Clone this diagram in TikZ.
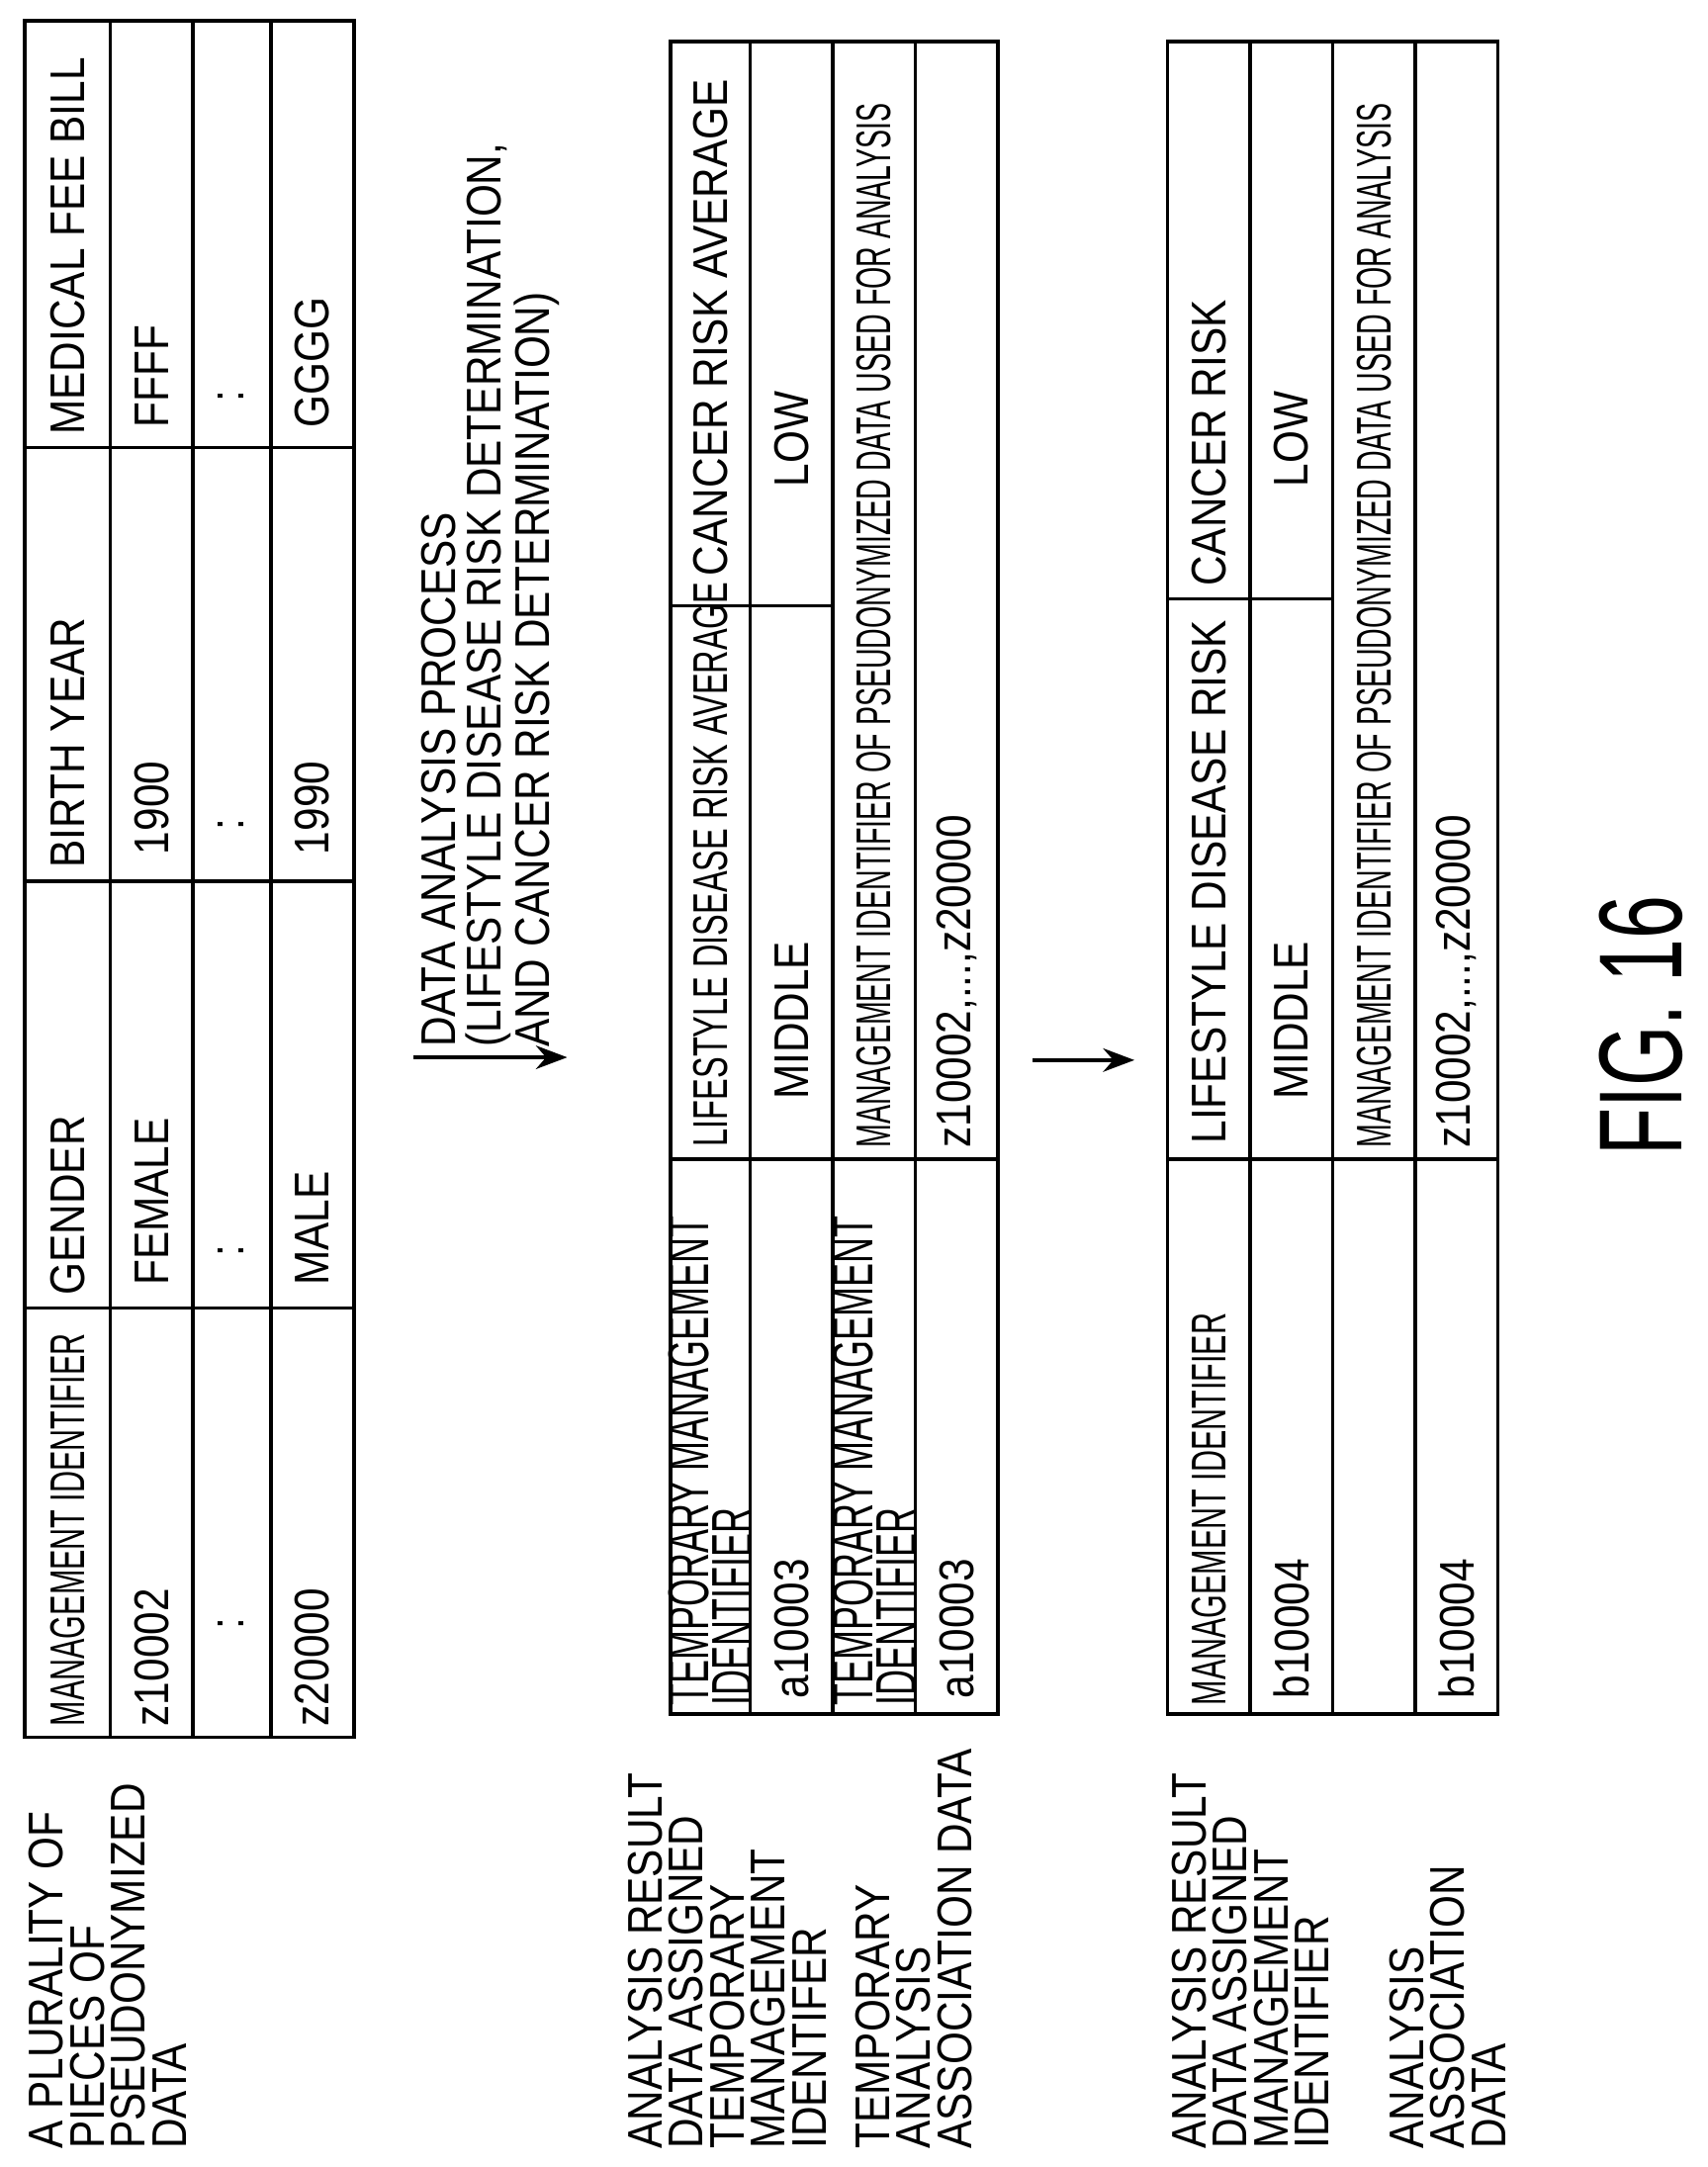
\documentclass[tikz,border=0pt]{standalone}
\usepackage{fontspec}
\setmainfont{Liberation Sans}[FakeStretch=0.86]
\newfontfamily\narrowfont{Liberation Sans}[FakeStretch=0.62]
\newfontfamily\slimfont{Liberation Sans}[FakeStretch=0.58]
\newfontfamily\midfont{Liberation Sans}[FakeStretch=0.66]
\usetikzlibrary{arrows.meta}
\usetikzlibrary{positioning}

\begin{document}
\begin{tikzpicture}[x=0.01392cm, y=-0.01392cm, line width=1pt,
 every node/.style={rotate=90, inner sep=0pt},
 cell/.style={anchor=west, font=\fontsize{14}{14}\selectfont},
 thin cell/.style={anchor=west, font=\narrowfont\fontsize{14}{11}\selectfont},
 mid cell/.style={anchor=west, font=\midfont\fontsize{14}{14}\selectfont},
 lab/.style={anchor=north west, align=left, font=\fontsize{14}{11.8}\selectfont}
]
 \useasboundingbox (0,0) rectangle (1240,1574);
 % first table
 \draw (18,15) rectangle (257,1262);
 \foreach \x in {80,140,197} \draw (\x,15) -- (\x,1262);
 \foreach \y in {325,640,950} \draw (18,\y) -- (257,\y);
 \node[cell] (bill) at (49,317) {MEDICAL FEE BILL};
 \node[cell] (year) at (49,632) {BIRTH YEAR};
 \node[cell] (gender) at (49,942) {GENDER};
 \node[thin cell] (mid) at (49,1255) {MANAGEMENT IDENTIFIER};
 \node[cell] (f1) at (110,312) {FFFF};
 \node[cell] (y1) at (110,622) {1900};
 \node[cell] (g1) at (110,935) {FEMALE};
 \node[cell] (i1) at (110,1255) {z10002};
 \node[cell] (f2) at (168,293) {:};
 \node[cell] (y2) at (168,604) {:};
 \node[cell] (g2) at (168,914) {:};
 \node[cell] (i2) at (168,1185) {:};
 \node[cell] (f3) at (227,312) {GGGG};
 \node[cell] (y3) at (227,622) {1990};
 \node[cell] (g3) at (227,935) {MALE};
 \node[cell] (i3) at (227,1255) {z20000};
 \node[lab] (pseudo) at (20,1562) {A PLURALITY OF\\PIECES OF\\PSEUDONYMIZED\\DATA};

 % analysis arrow
 \coordinate (a1) at (300,768);
 \coordinate (a2) at (412,768);
 \draw[-{Stealth[length=9pt]}] (a1) -- (a2);
 \node[lab, font=\fontsize{14}{13}\selectfont] (process) at (305,762) {DATA ANALYSIS PROCESS\\(LIFESTYLE DISEASE RISK DETERMINATION,\\AND CANCER RISK DETERMINATION)};

 % second table
 \draw (487,30) rectangle (725,1245);
 \foreach \x in {545,605,665} \draw (\x,30) -- (\x,1245);
 \draw (487,842) -- (725,842);
 \draw (487,440) -- (605,440);
 \node[cell] (cra) at (516,420) {CANCER RISK AVERAGE};
 \node[mid cell] (lra) at (516,834) {LIFESTYLE DISEASE RISK AVERAGE};
 \node[thin cell, align=left, font=\narrowfont\fontsize{16.5}{10.5}\selectfont] (tmi) at (516,1240) {TEMPORARY MANAGEMENT\\IDENTIFIER};
 \node[cell] (low) at (575,355) {LOW};
 \node[cell] (middle) at (575,800) {MIDDLE};
 \node[cell] (tid) at (575,1235) {a10003};
 \node[thin cell, font=\slimfont\fontsize{14}{11}\selectfont] (used) at (635,835) {MANAGEMENT IDENTIFIER OF PSEUDONYMIZED DATA USED FOR ANALYSIS};
 \node[thin cell, align=left, font=\narrowfont\fontsize{16.5}{10.5}\selectfont] (tmi2) at (635,1240) {TEMPORARY MANAGEMENT\\IDENTIFIER};
 \node[cell] (zz) at (695,835) {z10002,...,z20000};
 \node[cell] (tid2) at (695,1235) {a10003};
 \node[lab] (tres) at (455,1562) {ANALYSIS RESULT\\DATA ASSIGNED\\TEMPORARY\\MANAGEMENT\\IDENTIFER};
 \node[lab] (tassoc) at (620,1562) {TEMPORARY\\ANALYSIS\\ASSOCIATION DATA};

 % second arrow
 \coordinate (b1) at (750,770);
 \coordinate (b2) at (824,770);
 \draw[-{Stealth[length=9pt]}] (b1) -- (b2);

 % third table
 \draw (848,30) rectangle (1088,1245);
 \foreach \x in {908,968,1028} \draw (\x,30) -- (\x,1245);
 \draw (848,842) -- (1088,842);
 \draw (848,435) -- (968,435);
 \node[cell] (cr) at (878,427) {CANCER RISK};
 \node[cell] (lr) at (878,832) {LIFESTYLE DISEASE RISK};
 \node[thin cell] (mi) at (878,1240) {MANAGEMENT IDENTIFIER};
 \node[cell] (low2) at (938,355) {LOW};
 \node[cell] (middle2) at (938,800) {MIDDLE};
 \node[cell] (bid) at (938,1235) {b10004};
 \node[thin cell, font=\slimfont\fontsize{14}{11}\selectfont] (used2) at (998,835) {MANAGEMENT IDENTIFIER OF PSEUDONYMIZED DATA USED FOR ANALYSIS};
 \node[cell] (zz2) at (1058,835) {z10002,...,z20000};
 \node[cell] (bid2) at (1058,1235) {b10004};
 \node[lab] (res) at (850,1562) {ANALYSIS RESULT\\DATA ASSIGNED\\MANAGEMENT\\IDENTIFIER};
 \node[lab] (assoc) at (1008,1562) {ANALYSIS\\ASSOCIATION\\DATA};

 \node[font=\midfont\fontsize{34}{34}\selectfont] (fig) at (1192,745) {FIG. 16};
\end{tikzpicture}
\end{document}
